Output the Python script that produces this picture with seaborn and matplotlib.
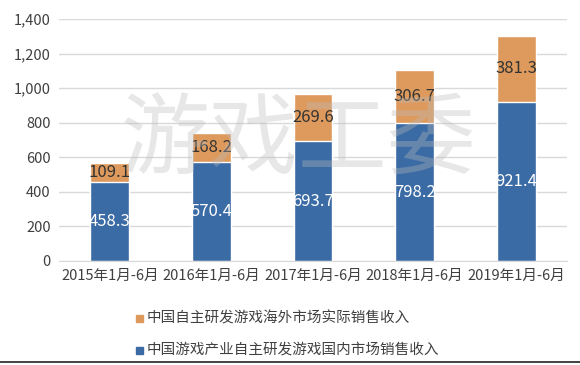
import pandas as pd
import matplotlib.pyplot as plt
import seaborn as sns

periods = ['2015年1月-6月', '2016年1月-6月', '2017年1月-6月', '2018年1月-6月', '2019年1月-6月']
domestic = [458.3, 570.4, 693.7, 798.2, 921.4]
overseas = [109.1, 168.2, 269.6, 306.7, 381.3]
label_overseas = '中国自主研发游戏海外市场实际销售收入'
label_domestic = '中国游戏产业自主研发游戏国内市场销售收入'

df = pd.DataFrame({'period': periods, 'domestic': domestic, 'overseas': overseas})
df['total'] = df['domestic'] + df['overseas']

sns.set_style('white')
plt.rcParams['font.family'] = ['Noto Sans CJK SC', 'DejaVu Sans']

blue = '#3B6BA5'
orange = '#DE9A5C'

fig = plt.figure(figsize=(5.8, 3.65), dpi=100)
ax = fig.add_axes([59 / 580, 1 - 261 / 365, 508 / 580, 242 / 365])

sns.barplot(data=df, x='period', y='total', color=orange, width=0.38,
            saturation=1, ax=ax, zorder=2)
sns.barplot(data=df, x='period', y='domestic', color=blue, width=0.38,
            saturation=1, ax=ax, zorder=2)

# value labels
for i, row in df.iterrows():
    ax.text(i, row['domestic'] / 2, f"{row['domestic']:.1f}", ha='center', va='center',
            color='white', fontsize=12, zorder=3)
    ax.text(i, row['domestic'] + row['overseas'] / 2, f"{row['overseas']:.1f}",
            ha='center', va='center', color='#333333', fontsize=12, zorder=3)

ax.set_ylim(0, 1400)
ax.set_yticks(range(0, 1401, 200))
ax.set_yticklabels([f'{v:,}' for v in range(0, 1401, 200)])
ax.set_xlim(-0.5, 4.5)
ax.yaxis.grid(True, color='#D9D9D9', linewidth=1)
ax.set_axisbelow(True)
for s in ['top', 'right', 'left']:
    ax.spines[s].set_visible(False)
ax.spines['bottom'].set_color('#D9D9D9')
ax.set_xlabel('')
ax.set_ylabel('')
ax.tick_params(axis='both', length=0, labelsize=10.5, colors='#404040', pad=6)

# watermark
fig.text(0.515, 0.61, '游戏工委', fontsize=64, color='#BBBBBB', alpha=0.35,
         ha='center', va='center', zorder=10)

# legend below, one entry per row
fig.patches.append(plt.Rectangle((136 / 580, 1 - 322 / 365), 7 / 580, 7 / 365,
                                 color=orange, transform=fig.transFigure, figure=fig))
fig.text(147 / 580, 1 - 318 / 365, label_overseas, fontsize=10.5, color='#404040', va='center')
fig.patches.append(plt.Rectangle((136 / 580, 1 - 354 / 365), 7 / 580, 7 / 365,
                                 color=blue, transform=fig.transFigure, figure=fig))
fig.text(147 / 580, 1 - 350 / 365, label_domestic, fontsize=10.5, color='#404040', va='center')

# dark rule at the bottom edge
fig.add_artist(plt.Line2D([0, 1], [1 - 362 / 365, 1 - 362 / 365], color='#222222',
                          linewidth=1.2, transform=fig.transFigure))

fig.savefig('out.png', dpi=100, facecolor='white')
